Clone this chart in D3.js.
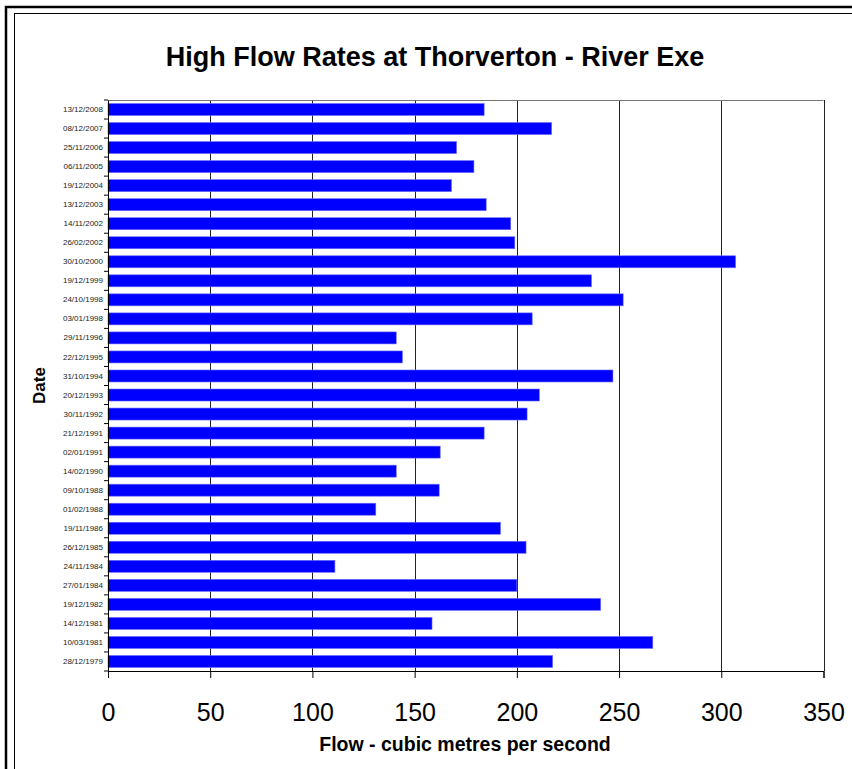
<!DOCTYPE html>
<html>
<head>
<meta charset="utf-8">
<script src="https://cdn.jsdelivr.net/npm/d3@7"></script>
<style>
  body { margin: 0; background: #fff; }
  svg { display: block; font-family: "Liberation Sans", Arial, sans-serif; }
</style>
</head>
<body>
<div id="chart"></div>
<script>
// peak flows, newest first (top of chart)
var dates = ["13/12/2008", "08/12/2007", "25/11/2006", "06/11/2005", "19/12/2004",
    "13/12/2003", "14/11/2002", "26/02/2002", "30/10/2000", "19/12/1999",
    "24/10/1998", "03/01/1998", "29/11/1996", "22/12/1995", "31/10/1994",
    "20/12/1993", "30/11/1992", "21/12/1991", "02/01/1991", "14/02/1990",
    "09/10/1988", "01/02/1988", "19/11/1986", "26/12/1985", "24/11/1984",
    "27/01/1984", "19/12/1982", "14/12/1981", "10/03/1981", "28/12/1979"];
var flows = [184, 217, 170.5, 179, 168, 185, 197, 199, 307, 236.5,
    252, 207.5, 141, 144, 247, 211, 205, 184, 162.5, 141,
    162, 131, 192, 204.5, 111, 200, 241, 158.5, 266.5, 217.5];
var xTicks = [0, 50, 100, 150, 200, 250, 300, 350];

var width = 852, height = 769;
var margin = {top: 100, right: 28.5, bottom: 98, left: 108};
var w = width - margin.left - margin.right;
var h = height - margin.top - margin.bottom;

var svg = d3.select("#chart").append("svg")
    .attr("width", width)
    .attr("height", height);

// double frame (runs off the right / bottom of the picture)
svg.append("rect")
    .attr("x", 6).attr("y", 7)
    .attr("width", 900).attr("height", 900)
    .attr("fill", "none").attr("stroke", "#000").attr("stroke-width", 2.5);
svg.append("rect")
    .attr("x", 14.5).attr("y", 13.5)
    .attr("width", 900).attr("height", 900)
    .attr("fill", "none").attr("stroke", "#000").attr("stroke-width", 1);

var g = svg.append("g")
    .attr("transform", "translate(" + margin.left + "," + margin.top + ")");

var x = d3.scaleLinear().domain([0, 350]).range([0, w]);
var y = d3.scaleBand().domain(dates).range([0, h]).paddingInner(0.37).paddingOuter(0.185);

// gridlines
g.selectAll("line.grid")
    .data(xTicks.slice(1))
    .enter().append("line")
    .attr("class", "grid")
    .attr("x1", d => Math.round(x(d)) + 0.5).attr("x2", d => Math.round(x(d)) + 0.5)
    .attr("y1", 0).attr("y2", h)
    .attr("stroke", "#222").attr("stroke-width", 1);

g.append("line")
    .attr("x1", 0).attr("x2", w).attr("y1", 0.5).attr("y2", 0.5)
    .attr("stroke", "#777");

g.selectAll("rect.bar")
    .data(flows)
    .enter().append("rect")
    .attr("class", "bar")
    .attr("x", 0)
    .attr("y", (d, i) => y(dates[i]))
    .attr("width", d => x(d))
    .attr("height", y.bandwidth())
    .attr("fill", "#0000ff")
    .attr("stroke", "#6b6bff")
    .attr("stroke-width", 0.6);

// x axis
var xAxis = g.append("g")
    .attr("transform", "translate(0," + h + ")")
    .call(d3.axisBottom(x).tickValues(xTicks).tickSize(7).tickPadding(25).tickFormat(d3.format("d")));
xAxis.select(".domain").attr("stroke", "#000");
xAxis.selectAll("text")
    .attr("font-family", "Liberation Sans, Arial, sans-serif")
    .attr("font-size", 25)
    .attr("fill", "#000");

// y axis: labels in band centres, ticks on the band edges
var yAxis = g.append("g")
    .call(d3.axisLeft(y).tickSize(0).tickPadding(5));
yAxis.select(".domain").attr("stroke", "#000");
yAxis.selectAll("text")
    .attr("font-family", "Liberation Sans, Arial, sans-serif")
    .attr("font-size", 8)
    .attr("fill", "#222");

var step = y.step();
g.selectAll("line.ytick")
    .data(d3.range(dates.length + 1))
    .enter().append("line")
    .attr("class", "ytick")
    .attr("x1", -4).attr("x2", 0)
    .attr("y1", i => i * step).attr("y2", i => i * step)
    .attr("stroke", "#000");

// titles
svg.append("text")
    .attr("x", 435).attr("y", 66)
    .attr("text-anchor", "middle")
    .attr("font-size", 27)
    .attr("font-weight", "bold")
    .text("High Flow Rates at Thorverton - River Exe");

svg.append("text")
    .attr("x", 465).attr("y", 751)
    .attr("text-anchor", "middle")
    .attr("font-size", 19.5)
    .attr("font-weight", "bold")
    .text("Flow - cubic metres per second");

svg.append("text")
    .attr("transform", "translate(45," + (margin.top + h / 2) + ") rotate(-90)")
    .attr("text-anchor", "middle")
    .attr("font-size", 17)
    .attr("font-weight", "bold")
    .text("Date");
</script>
</body>
</html>
